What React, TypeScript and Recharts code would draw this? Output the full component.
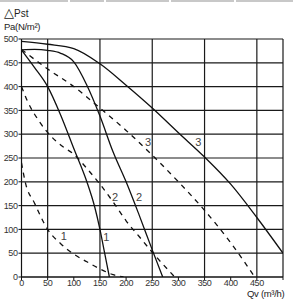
import React from 'react';
import { LineChart, Line, XAxis, YAxis, CartesianGrid, ReferenceDot } from 'recharts';

const flowTicks = [0, 50, 100, 150, 200, 250, 300, 350, 400, 450, 500];
const pressureTicks = [0, 50, 100, 150, 200, 250, 300, 350, 400, 450, 500];

// solid = fan curve, dashed = system curve, numbered 1..3
const curve1 = [
  { x: 0, y: 477 }, { x: 25, y: 440 }, { x: 50, y: 400 }, { x: 75, y: 340 },
  { x: 100, y: 270 }, { x: 125, y: 200 }, { x: 140, y: 147 }, { x: 150, y: 100 },
  { x: 159, y: 50 }, { x: 168, y: 0 },
];
const curve1Dashed = [
  { x: 0, y: 240 }, { x: 7, y: 200 }, { x: 25, y: 155 }, { x: 50, y: 100 },
  { x: 75, y: 70 }, { x: 100, y: 48 }, { x: 125, y: 32 }, { x: 150, y: 17 },
  { x: 175, y: 5 }, { x: 195, y: 0 },
];
const curve2 = [
  { x: 0, y: 477 }, { x: 25, y: 478 }, { x: 50, y: 476 }, { x: 75, y: 470 },
  { x: 100, y: 452 }, { x: 125, y: 403 }, { x: 150, y: 338 }, { x: 175, y: 263 },
  { x: 200, y: 200 }, { x: 225, y: 130 }, { x: 250, y: 57 }, { x: 270, y: 0 },
];
const curve2Dashed = [
  { x: 0, y: 400 }, { x: 12, y: 368 }, { x: 32, y: 330 }, { x: 57, y: 295 },
  { x: 80, y: 273 }, { x: 100, y: 258 }, { x: 125, y: 228 }, { x: 150, y: 195 },
  { x: 175, y: 158 }, { x: 200, y: 118 }, { x: 225, y: 85 }, { x: 250, y: 52 },
  { x: 293, y: 0 },
];
const curve3 = [
  { x: 0, y: 495 }, { x: 50, y: 489 }, { x: 100, y: 480 }, { x: 150, y: 448 },
  { x: 200, y: 403 }, { x: 250, y: 355 }, { x: 300, y: 303 }, { x: 350, y: 252 },
  { x: 400, y: 195 }, { x: 450, y: 125 }, { x: 500, y: 50 },
];
const curve3Dashed = [
  { x: 0, y: 478 }, { x: 50, y: 437 }, { x: 100, y: 400 }, { x: 150, y: 355 },
  { x: 200, y: 308 }, { x: 250, y: 256 }, { x: 300, y: 200 }, { x: 350, y: 140 },
  { x: 400, y: 72 }, { x: 446, y: 0 },
];

const curveLabels = [
  { x: 81, y: 86, text: '1' },
  { x: 162, y: 84, text: '1' },
  { x: 179, y: 168, text: '2' },
  { x: 225, y: 168, text: '2' },
  { x: 242, y: 284, text: '3' },
  { x: 338, y: 284, text: '3' },
];

const font = '"Liberation Sans", Arial, sans-serif';
const tickStyle = { fontSize: 9, fill: '#333', fontFamily: font, letterSpacing: -0.4 };

export default function App() {
  const lineProps = { type: 'monotone' as const, dataKey: 'y', stroke: '#111', strokeWidth: 1.3, dot: false, isAnimationActive: false };
  return (
    <div style={{ position: 'absolute', left: 0, top: 0, width: 293, height: 299, background: '#fff', fontFamily: font }}>
      <div style={{ position: 'absolute', left: 0, top: 0, width: 293, height: 2, display: 'flex', gap: 2 }}>
        {[68, 34, 64, 63, 57].map((w, i) => (
          <div key={i} style={{ width: w, height: 2, background: '#c8c8c8' }} />
        ))}
      </div>
      <div style={{ position: 'absolute', left: 4, top: 6, height: 13, fontSize: 10, color: '#222', lineHeight: '13px' }}>
        <span style={{ fontSize: 13, lineHeight: '13px', fontFamily: '"DejaVu Sans", sans-serif' }}>△</span>Pst
      </div>
      <div style={{ position: 'absolute', left: 4, top: 22, fontSize: 9.5, lineHeight: '10px', color: '#222', letterSpacing: -0.3 }}>
        Pa(N/m²)
      </div>
      <div style={{ position: 'absolute', left: 247, top: 289, fontSize: 9.5, lineHeight: '10px', color: '#222', letterSpacing: -0.3 }}>
        Qv (m³/h)
      </div>
      <LineChart width={293} height={299} margin={{ top: 39, right: 10, bottom: 0, left: 0 }}>
        <CartesianGrid stroke="#1a1a1a" strokeWidth={1.2} />
        <XAxis
          type="number"
          dataKey="x"
          domain={[0, 500]}
          ticks={flowTicks}
          height={22}
          tickSize={3}
          tickMargin={0}
          stroke="#111"
          tick={tickStyle}
          tickFormatter={(v: number) => (v === 500 ? '' : String(v))}
          allowDataOverflow
        />
        <YAxis
          type="number"
          domain={[0, 500]}
          ticks={pressureTicks}
          width={21.5}
          tickSize={3}
          tickMargin={1}
          stroke="#111"
          tick={tickStyle}
          allowDataOverflow
        />
        <Line data={curve1} {...lineProps} />
        <Line data={curve1Dashed} {...lineProps} strokeDasharray="5 5" />
        <Line data={curve2} {...lineProps} />
        <Line data={curve2Dashed} {...lineProps} strokeDasharray="5 5" />
        <Line data={curve3} {...lineProps} />
        <Line data={curve3Dashed} {...lineProps} strokeDasharray="5 5" />
        {curveLabels.map((l, i) => (
          <ReferenceDot
            key={i}
            x={l.x}
            y={l.y}
            r={0}
            stroke="none"
            label={{ value: l.text, position: 'center', fontSize: 11, fill: '#444', fontFamily: font }}
          />
        ))}
      </LineChart>
    </div>
  );
}
